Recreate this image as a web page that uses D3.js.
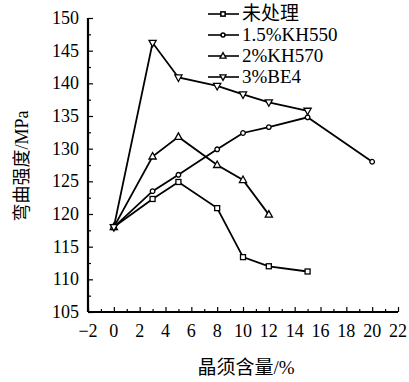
<!DOCTYPE html>
<html>
<head>
<meta charset="utf-8">
<script src="https://cdn.jsdelivr.net/npm/d3@7"></script>
<style>
  body { margin: 0; background: #fff; }
  svg text { font-family: "Liberation Serif", "Times New Roman", "Noto Sans CJK SC", serif; fill: #000; }
</style>
</head>
<body>
<svg id="chart" width="409" height="382"></svg>
<script>
// values
var seriesNames = ["未处理", "1.5%KH550", "2%KH570", "3%BE4"];
var untreatedX = [0, 3, 5, 8, 10, 12, 15],
    untreatedY = [118, 122.3, 124.9, 120.9, 113.4, 112, 111.2];
var kh550X = [0, 3, 5, 8, 10, 12, 15, 20],
    kh550Y = [118, 123.5, 126, 129.9, 132.4, 133.3, 134.8, 128];
var kh570X = [0, 3, 5, 8, 10, 12],
    kh570Y = [118, 128.8, 131.8, 127.5, 125.2, 119.9];
var be4X = [0, 3, 5, 8, 10, 12, 15],
    be4Y = [118, 146.2, 140.9, 139.6, 138.3, 137.1, 135.8];
var xTicks = [-2, 0, 2, 4, 6, 8, 10, 12, 14, 16, 18, 20, 22],
    yTicks = [105, 110, 115, 120, 125, 130, 135, 140, 145, 150];

function draw() {
    var svg = d3.select("#chart"),
        margins = {"left": 88, "right": 11, "top": 18, "bottom": 70},
        width = 409, height = 382;

    var x = d3.scaleLinear().domain([-2, 22]).range([margins.left, width - margins.right]),
        y = d3.scaleLinear().domain([105, 150]).range([height - margins.bottom, margins.top]);

    // axes: ticks point inwards, minor ticks between
    var xaxis = svg.append("g").attr("transform", "translate(" + [0, y(105)] + ")");
    xaxis.call(d3.axisBottom(x).tickValues(d3.range(-2, 22.5, 1)).tickSize(-3).tickFormat(""));
    xaxis.selectAll(".tick line").attr("y2", d => d % 2 === 0 ? -5 : -3).attr("stroke-width", 1.2);
    xaxis.select(".domain").attr("stroke-width", 2.2).attr("d", "M" + x(-2) + ",0H" + x(22));
    svg.append("g").selectAll("text").data(xTicks).enter().append("text")
        .attr("x", d => x(d)).attr("y", y(105) + 25)
        .attr("text-anchor", "middle").style("font-size", "18px")
        .text(d => d < 0 ? "\u2212" + Math.abs(d) : d);

    var yaxis = svg.append("g").attr("transform", "translate(" + [x(-2), 0] + ")");
    yaxis.call(d3.axisLeft(y).tickValues(d3.range(105, 150.1, 2.5)).tickSize(-3).tickFormat(""));
    yaxis.selectAll(".tick line").attr("x2", d => d % 5 === 0 ? 5 : 3).attr("stroke-width", 1.2);
    yaxis.select(".domain").attr("stroke-width", 2.2).attr("d", "M0," + y(150) + "V" + y(105));
    svg.append("g").selectAll("text").data(yTicks).enter().append("text")
        .attr("x", x(-2) - 9).attr("y", d => y(d) + 6)
        .attr("text-anchor", "end").style("font-size", "18px")
        .text(d => d);

    svg.append("text").attr("x", 246).attr("y", 374).attr("text-anchor", "middle")
        .style("font-size", "19px").text("晶须含量/%");
    svg.append("text").attr("transform", "translate(28,166) rotate(-90)").attr("text-anchor", "middle")
        .style("font-size", "18px").text("弯曲强度/MPa");

    var series = [
        {name: seriesNames[0], xs: untreatedX, ys: untreatedY, mark: "square"},
        {name: seriesNames[1], xs: kh550X, ys: kh550Y, mark: "circle"},
        {name: seriesNames[2], xs: kh570X, ys: kh570Y, mark: "up"},
        {name: seriesNames[3], xs: be4X, ys: be4Y, mark: "down"}
    ];

    function marker(sel, kind, k) {
        k = k || 1;
        if (kind === "square") sel.append("rect").attr("x", -2.5 * k).attr("y", -2.5 * k).attr("width", 5 * k).attr("height", 5 * k);
        else if (kind === "circle") sel.append("circle").attr("r", 2.3 * k);
        else if (kind === "up") sel.append("path").attr("d", "M0,-4L3.6,2.5L-3.6,2.5Z").attr("transform", "scale(" + k + ")");
        else sel.append("path").attr("d", "M0,4L3.6,-2.5L-3.6,-2.5Z").attr("transform", "scale(" + k + ")");
        sel.selectAll("*").attr("fill", "#fff").attr("stroke", "#000").attr("stroke-width", 1.3 / k);
    }

    var line = d3.line().x(d => x(d[0])).y(d => y(d[1]));
    series.forEach(s => {
        var pts = s.xs.map((v, i) => [v, s.ys[i]]);
        svg.append("path").datum(pts).attr("d", line)
            .attr("fill", "none").attr("stroke", "#000").attr("stroke-width", 1.8);
        pts.forEach(p => {
            var g = svg.append("g").attr("transform", "translate(" + [x(p[0]), y(p[1])] + ")");
            marker(g, s.mark);
        });
    });

    // legend
    series.forEach((s, i) => {
        var ly = 14 + i * 21;
        svg.append("line").attr("x1", 208).attr("x2", 239).attr("y1", ly).attr("y2", ly)
            .attr("stroke", "#000").attr("stroke-width", 1.6);
        marker(svg.append("g").attr("transform", "translate(" + [223, ly] + ")"), s.mark, 0.85);
        svg.append("text").attr("x", 242).attr("y", ly + 6).style("font-size", "19px").text(s.name);
    });
}

draw();
</script>
</body>
</html>
